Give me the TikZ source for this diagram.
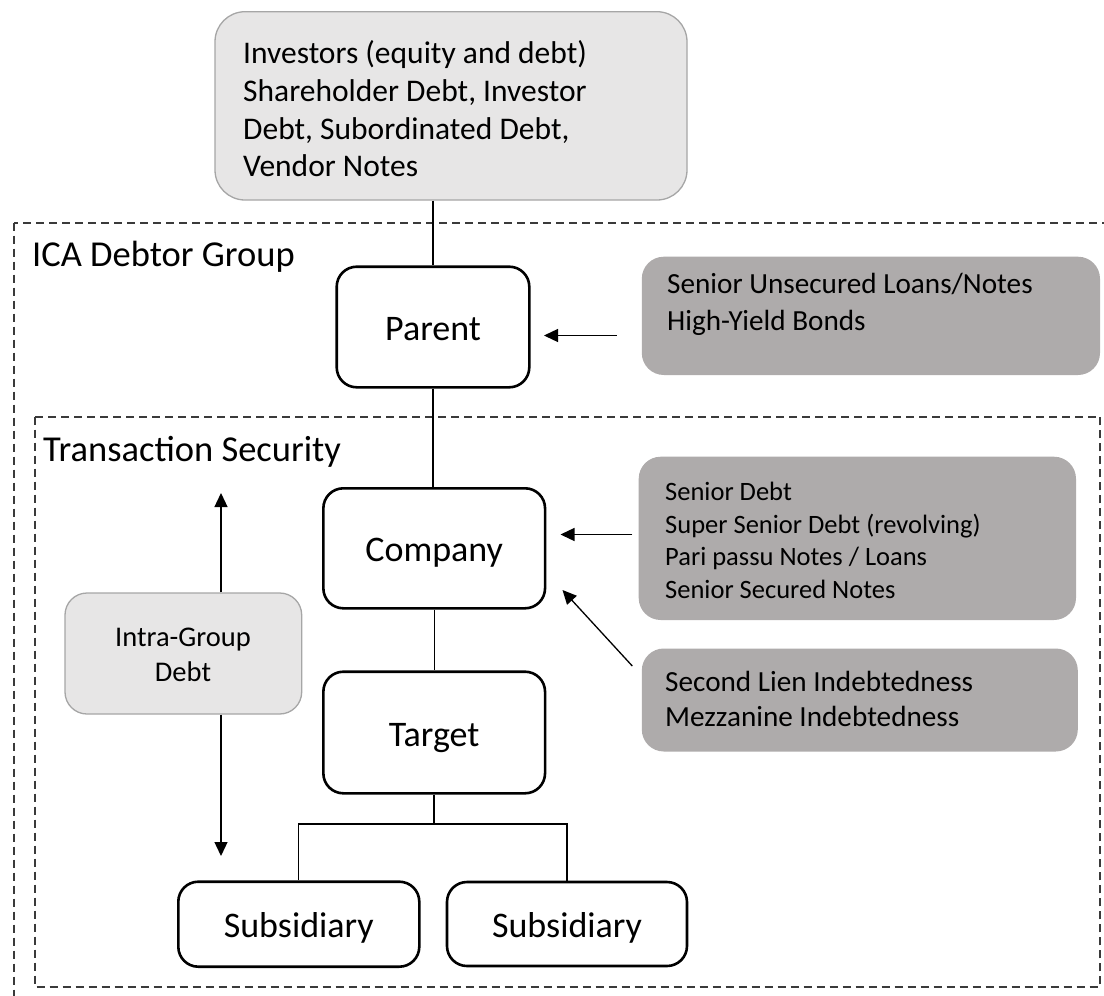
\documentclass[tikz,border=0pt]{standalone}
\usepackage{fontspec}
\setmainfont{Carlito}
\usetikzlibrary{arrows.meta}

\definecolor{lightfill}{HTML}{E7E6E6}
\definecolor{lightedge}{HTML}{A6A6A6}
\definecolor{darkfill}{HTML}{AEABAB}
\definecolor{dashcol}{HTML}{3A3A3A}

\tikzset{
  entity/.style={draw=black, line width=2.6pt, fill=white, rounded corners=20pt,
    inner sep=0pt, font=\fontsize{36}{43}\selectfont, text height=27pt, text depth=0pt},
  lightbox/.style={draw=lightedge, line width=1.3pt, fill=lightfill, inner sep=0pt},
  darkbox/.style={fill=darkfill, rounded corners=22pt, inner sep=0pt},
  boxtext/.style={inner sep=0pt, anchor=north west, align=left},
  region/.style={draw=dashcol, line width=1.6pt, dash pattern=on 8pt off 5pt},
  regionlabel/.style={inner sep=0pt, anchor=base west, font=\fontsize{36.5}{44}\selectfont},
  link/.style={line width=1.3pt},
  arr/.style={line width=1.3pt, -{Triangle[length=14pt, width=13pt]}},
}

\begin{document}
\begin{tikzpicture}[x=1pt, y=-1pt]
\useasboundingbox (0,0) rectangle (1104,996);
\clip (0,0) rectangle (1104,996);

% group boundaries
\draw[region] (14,222.7) rectangle (1120,1010);
\draw[region] (35,416.7) rectangle (1100,987);
\node[regionlabel] (ica) at (32,266.7) {ICA Debtor Group};
\node[regionlabel] (ts) at (43,461.7) {Transaction Security};

% investors
\node[lightbox, rounded corners=30pt, minimum width=472pt, minimum height=188.3pt] (inv) at (451,105.85) {};
\node[boxtext, font=\fontsize{31.5}{37.8}\selectfont] (invtext) at (243,36.8)
  {\strut Investors (equity and debt)\\Shareholder Debt, Investor\\Debt, Subordinated Debt,\\Vendor Notes};

% group entities
\node[entity, minimum width=192.6pt, minimum height=120.6pt] (parent) at (433,327) {Parent};
\node[entity, minimum width=221.7pt, minimum height=120pt] (company) at (434.2,548.3) {Company};
\node[entity, minimum width=221.7pt, minimum height=121.6pt] (target) at (434.2,732.5) {Target};
\node[entity, minimum width=241pt, minimum height=85pt] (sub1) at (298.8,924.2) {Subsidiary};
\node[entity, minimum width=240pt, minimum height=84pt] (sub2) at (567,924) {Subsidiary};

% debt instruments
\node[darkbox, minimum width=458.2pt, minimum height=118.3pt] (su) at (870.9,315.85) {};
\node[boxtext, font=\fontsize{29.2}{37}\selectfont] (sutext) at (667,267.1)
  {\strut Senior Unsecured Loans/Notes\\High-Yield Bonds};

\node[darkbox, minimum width=437.3pt, minimum height=163.3pt] (sd) at (857.35,538.35) {};
\node[boxtext, font=\fontsize{26.5}{32.5}\selectfont] (sdtext) at (665,477.95)
  {\strut Senior Debt\\Super Senior Debt (revolving)\\Pari passu Notes / Loans\\Senior Secured Notes};

\node[darkbox, minimum width=436pt, minimum height=103pt] (sl) at (859.8,700) {};
\node[boxtext, font=\fontsize{29.2}{35}\selectfont] (sltext) at (665,667.2)
  {\strut Second Lien Indebtedness\\Mezzanine Indebtedness};

% intra-group debt
\node[lightbox, rounded corners=22pt, minimum width=236.7pt, minimum height=121pt] (ig) at (183.35,653.5) {};
\node[inner sep=0pt, anchor=north, align=center, font=\fontsize{28.5}{35}\selectfont] (igtext) at (183,622.2)
  {\strut Intra-Group\\Debt};

% ownership structure
\draw[link] (inv.south -| parent.north) -- (parent.north);
\draw[link] (parent.south) -- (parent.south |- company.north);
\draw[link] (company.south) -- (company.south |- target.north);
\coordinate (split) at (434,824);
\draw[link] (target.south -| split) -- (split);
\draw[link] (sub1.north) |- (split) -| (sub2.north);

% lending arrows
\coordinate (su-tail) at (616.5,335.5);
\coordinate (parent-tip) at (544,335.5);
\draw[arr] (su-tail) -- (parent-tip);
\coordinate (sd-tail) at (632.3,534.5);
\coordinate (company-tip) at (560.5,534.5);
\draw[arr] (sd-tail) -- (company-tip);
\coordinate (sl-tail) at (632.3,666);
\coordinate (company-tip2) at (562.5,590);
\draw[arr] (sl-tail) -- (company-tip2);

% intra-group flows
\coordinate (ig-up) at (221,493);
\coordinate (ig-down) at (221,856);
\draw[arr] (ig.north -| ig-up) -- (ig-up);
\draw[arr] (ig.south -| ig-down) -- (ig-down);
\end{tikzpicture}
\end{document}
